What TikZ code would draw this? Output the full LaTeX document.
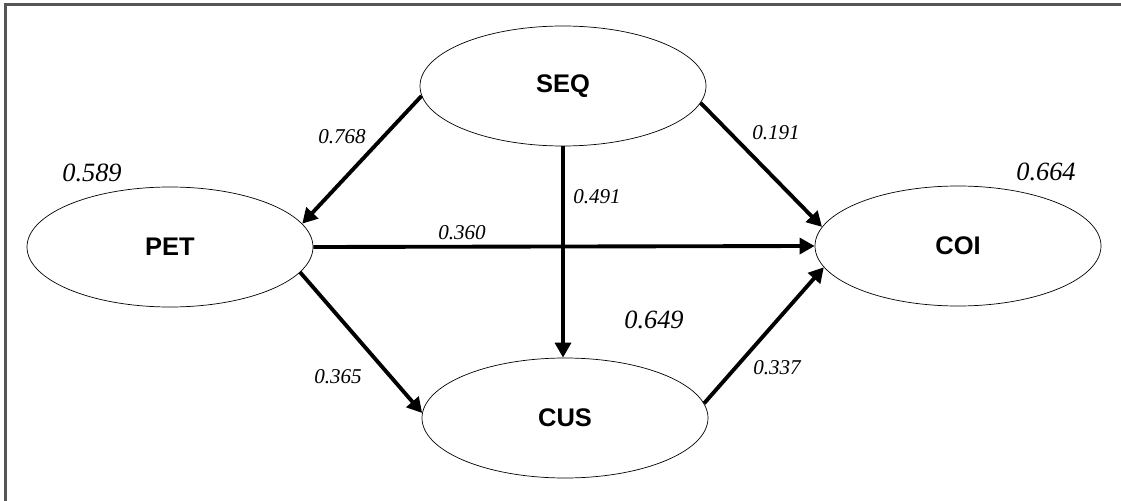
\documentclass[tikz,border=0pt]{standalone}
\usepackage{fontspec}
\setmainfont{Liberation Serif}
\setsansfont{Liberation Sans}
\usetikzlibrary{arrows.meta,shapes.geometric}
\definecolor{framegray}{HTML}{555555}
\tikzset{
	latent/.style={ellipse, draw, thin, minimum width=5.72cm, minimum height=2.4cm, inner sep=0pt, font=\sffamily\bfseries\fontsize{14.5}{16}\selectfont},
	path/.style={-{Triangle[length=8.5pt,width=9pt]}, line width=2.2pt},
	coef/.style={font=\itshape\fontsize{12}{14}\selectfont},
	rsq/.style={font=\itshape\fontsize{15}{17}\selectfont}
}
\begin{document}
\begin{tikzpicture}
	\useasboundingbox (0,0) rectangle (22.42,-10.02);
	\draw[framegray, line width=1.4pt] (0.11,-10.02) -- (0.11,-0.09) -- (22.42,-0.09);

	\node 	(seq)	at	(11.26,-1.72) 	[latent]{SEQ};
	\node 	(pet)	at	(3.40,-4.94) 	[latent]{PET};
	\node 	(coi)	at	(19.16,-4.92) 	[latent]{COI};
	\node 	(cus)	at	(11.30,-8.36) 	[latent]{CUS};

	\draw[path] (seq.184) to 	(pet.10);
	\draw[path] (seq.353) to 	(coi.172);
	\draw[path] (seq.south) to 	(seq.south |- cus.north);
	\draw[path] (pet.east) to 	(coi.west);
	\draw[path] (pet.349) to 	(cus.178);
	\draw[path] (cus.6) to 	(coi.189);

	\node 	(l768)	at	(6.84,-2.74) 	[coef]{0.768};
	\node 	(l191)	at	(15.52,-2.66) 	[coef]{0.191};
	\node 	(l491)	at	(11.94,-3.94) 	[coef]{0.491};
	\node 	(l360)	at	(9.24,-4.66) 	[coef]{0.360};
	\node 	(l365)	at	(6.76,-7.54) 	[coef]{0.365};
	\node 	(l337)	at	(15.54,-7.36) 	[coef]{0.337};

	\node 	(r589)	at	(1.84,-3.46) 	[rsq]{0.589};
	\node 	(r664)	at	(20.92,-3.44) 	[rsq]{0.664};
	\node 	(r649)	at	(13.08,-6.40) 	[rsq]{0.649};
\end{tikzpicture}
\end{document}
